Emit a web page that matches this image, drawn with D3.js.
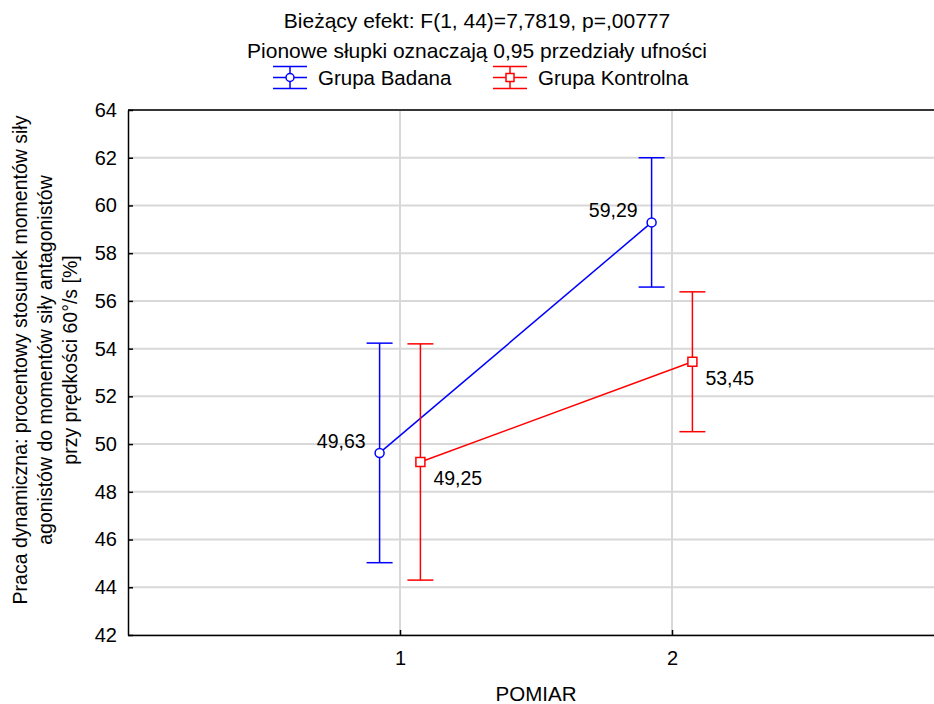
<!DOCTYPE html>
<html>
<head>
<meta charset="utf-8">
<script src="https://cdn.jsdelivr.net/npm/d3@7"></script>
<style>
  html, body { margin: 0; padding: 0; background: #fff; }
  svg { display: block; font-family: "Liberation Sans", Arial, sans-serif; }
</style>
</head>
<body>
<svg id="chart" width="934" height="704"></svg>
<script>
// Measurement occasions (x categories)
const pomiary = [1, 2];
// Group means per measurement
const grupaBadana = [49.63, 59.29];
const grupaKontrolna = [49.25, 53.45];
// 0.95 confidence interval bounds per measurement
const badanaLow = [45.03, 56.58];
const badanaHigh = [54.23, 62.00];
const kontrolnaLow = [44.30, 50.52];
const kontrolnaHigh = [54.20, 56.38];
// Axis ticks
const yTicks = [42, 44, 46, 48, 50, 52, 54, 56, 58, 60, 62, 64];
const xTicks = [1, 2];

const titleLines = [
  "Bieżący efekt: F(1, 44)=7,7819, p=,00777",
  "Pionowe słupki oznaczają 0,95 przedziały ufności"
];
const yLabelLines = [
  "Praca dynamiczna: procentowy stosunek momentów siły",
  "agonistów do momentów siły antagonistów",
  "przy prędkości 60°/s [%]"
];
const xLabel = "POMIAR";

const series = [
  { name: "Grupa Badana", color: "#0000ff", marker: "circle", shift: -0.075,
    mean: grupaBadana, lo: badanaLow, hi: badanaHigh, labelSide: "left" },
  { name: "Grupa Kontrolna", color: "#ff0000", marker: "square", shift: 0.075,
    mean: grupaKontrolna, lo: kontrolnaLow, hi: kontrolnaHigh, labelSide: "right" }
];

const svg = d3.select("#chart");
const plot = { left: 128, right: 944, top: 110, bottom: 635 };

const x = d3.scaleLinear().domain([0, 3]).range([plot.left, plot.right]);
const y = d3.scaleLinear().domain([42, 64]).range([plot.bottom, plot.top]);
const fmt = v => d3.format(".2f")(v).replace(".", ",");

// Grid
const grid = svg.append("g");
grid.selectAll("line.h").data(yTicks).join("line")
  .attr("x1", plot.left).attr("x2", plot.right)
  .attr("y1", d => y(d)).attr("y2", d => y(d))
  .attr("stroke", "#d8d8d8").attr("stroke-width", 2);
grid.selectAll("line.v").data(xTicks).join("line")
  .attr("x1", d => x(d)).attr("x2", d => x(d))
  .attr("y1", plot.top).attr("y2", plot.bottom)
  .attr("stroke", "#d8d8d8").attr("stroke-width", 2);

// Frame line along the top
svg.append("line").attr("x1", plot.left).attr("x2", plot.right)
  .attr("y1", plot.top).attr("y2", plot.top).attr("stroke", "#000").attr("stroke-width", 1.5);

// Axes with inward ticks
const yAxis = d3.axisLeft(y).tickValues(yTicks).tickSizeInner(-5).tickSizeOuter(0).tickPadding(11);
const gy = svg.append("g").attr("transform", `translate(${plot.left},0)`).call(yAxis);
const xAxis = d3.axisBottom(x).tickValues(xTicks).tickSizeInner(-5).tickSizeOuter(0).tickPadding(16)
  .tickFormat(d3.format("d"));
const gx = svg.append("g").attr("transform", `translate(0,${plot.bottom})`).call(xAxis);
[gy, gx].forEach(g => {
  g.select(".domain").attr("stroke", "#000").attr("stroke-width", 1.5);
  g.selectAll(".tick line").attr("stroke", "#000").attr("stroke-width", 1.5);
  g.selectAll(".tick text").attr("fill", "#000").style("font-size", "20px")
    .style("font-family", '"Liberation Sans", Arial, sans-serif');
});

// Series: connecting line, CI whiskers, markers, value labels
const capHalf = 13;
series.forEach(s => {
  const pts = pomiary.map((p, i) => ({ p, i, xp: x(p + s.shift), m: s.mean[i], lo: s.lo[i], hi: s.hi[i] }));
  const g = svg.append("g");
  g.append("path").datum(pts)
    .attr("d", d3.line().x(d => d.xp).y(d => y(d.m)))
    .attr("fill", "none").attr("stroke", s.color).attr("stroke-width", 1.5);
  g.selectAll("line.ci").data(pts).join("line")
    .attr("x1", d => d.xp).attr("x2", d => d.xp)
    .attr("y1", d => y(d.lo)).attr("y2", d => y(d.hi))
    .attr("stroke", s.color).attr("stroke-width", 1.5);
  ["lo", "hi"].forEach(k => {
    g.selectAll("line.cap" + k).data(pts).join("line")
      .attr("x1", d => d.xp - capHalf).attr("x2", d => d.xp + capHalf)
      .attr("y1", d => y(d[k])).attr("y2", d => y(d[k]))
      .attr("stroke", s.color).attr("stroke-width", 1.5);
  });
  if (s.marker === "circle") {
    g.selectAll("circle").data(pts).join("circle")
      .attr("cx", d => d.xp).attr("cy", d => y(d.m)).attr("r", 4.5)
      .attr("fill", "#fff").attr("stroke", s.color).attr("stroke-width", 1.5);
  } else {
    g.selectAll("rect").data(pts).join("rect")
      .attr("x", d => d.xp - 4.5).attr("y", d => y(d.m) - 4.5)
      .attr("width", 9).attr("height", 9)
      .attr("fill", "#fff").attr("stroke", s.color).attr("stroke-width", 1.5);
  }
  g.selectAll("text").data(pts).join("text")
    .attr("x", d => s.labelSide === "left" ? d.xp - 14 : d.xp + 13)
    .attr("y", d => s.labelSide === "left" ? y(d.m) - 5 : y(d.m) + 23)
    .attr("text-anchor", s.labelSide === "left" ? "end" : "start")
    .style("font-size", "19.5px").attr("fill", "#000")
    .text(d => fmt(d.m));
});

// Title
const cx = 477;
svg.selectAll("text.title").data(titleLines).join("text")
  .attr("x", cx).attr("y", (d, i) => 28 + i * 30)
  .attr("text-anchor", "middle").style("font-size", "21px").attr("fill", "#000")
  .text(d => d);

// Legend
const legendItems = [
  { s: series[0], x0: 273, tx: 318 },
  { s: series[1], x0: 493, tx: 538 }
];
const ly = 77.5;
legendItems.forEach(it => {
  const g = svg.append("g");
  const c = it.s.color, xc = it.x0 + 17;
  [-11, 0, 11].forEach(dy => g.append("line")
    .attr("x1", it.x0).attr("x2", it.x0 + 34).attr("y1", ly + dy).attr("y2", ly + dy)
    .attr("stroke", c).attr("stroke-width", 1.5));
  g.append("line").attr("x1", xc).attr("x2", xc).attr("y1", ly - 11).attr("y2", ly + 11)
    .attr("stroke", c).attr("stroke-width", 1.5);
  if (it.s.marker === "circle") {
    g.append("circle").attr("cx", xc).attr("cy", ly).attr("r", 4)
      .attr("fill", "#fff").attr("stroke", c).attr("stroke-width", 1.5);
  } else {
    g.append("rect").attr("x", xc - 4).attr("y", ly - 4).attr("width", 8).attr("height", 8)
      .attr("fill", "#fff").attr("stroke", c).attr("stroke-width", 1.5);
  }
  g.append("text").attr("x", it.tx).attr("y", 85)
    .style("font-size", "20.5px").attr("fill", "#000").text(it.s.name);
});

// Axis titles
svg.append("text").attr("x", (plot.left + plot.right) / 2).attr("y", 701)
  .attr("text-anchor", "middle").style("font-size", "20.5px").attr("fill", "#000").text(xLabel);
const yl = svg.append("text")
  .attr("transform", `translate(0,${360}) rotate(-90)`)
  .attr("text-anchor", "middle").style("font-size", "19.5px").attr("fill", "#000");
yLabelLines.forEach((t, i) => {
  yl.append("tspan").attr("x", 0).attr("y", 27 + i * 25).text(t);
});
</script>
</body>
</html>
